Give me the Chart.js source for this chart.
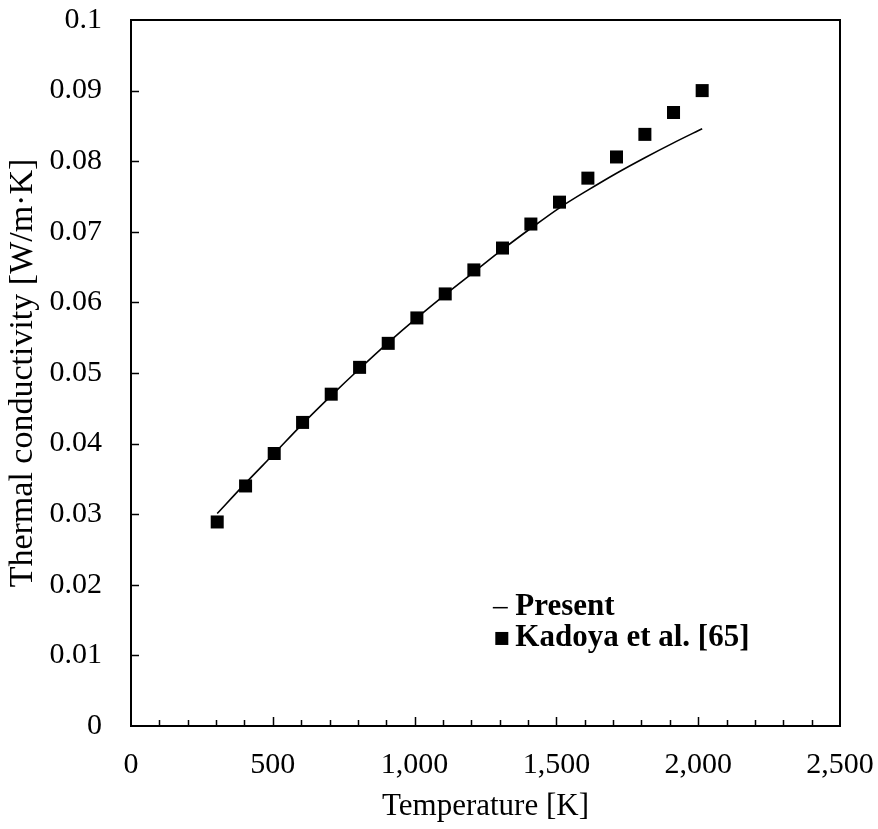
<!DOCTYPE html>
<html>
<head>
<meta charset="utf-8">
<script src="https://cdn.jsdelivr.net/npm/chart.js@4/dist/chart.umd.min.js"></script>
<style>
  html, body { margin: 0; padding: 0; background: #fff; }
  #wrap { width: 878px; height: 829px; }
</style>
</head>
<body>
<div id="wrap"><canvas id="c" width="878" height="829"></canvas></div>
<script>
// Temperatures [K] of the compared states
const temperatures = [304, 404, 505, 605, 706, 806, 907, 1008, 1108, 1209, 1310, 1410, 1511, 1611, 1712, 1812, 1913, 2014];
// Thermal conductivity [W/m·K] from the present model
const presentValues = [0.0301, 0.0344, 0.0386, 0.0428, 0.0468, 0.0506, 0.0543, 0.0578, 0.0611, 0.0643, 0.0675, 0.0705, 0.0734, 0.0759, 0.0783, 0.0805, 0.0826, 0.0846];
// Thermal conductivity [W/m·K] by Kadoya et al. [65]
const kadoyaValues = [0.0289, 0.0340, 0.0386, 0.0430, 0.0470, 0.0508, 0.0542, 0.0578, 0.0612, 0.0646, 0.0677, 0.0711, 0.0742, 0.0776, 0.0806, 0.0838, 0.0869, 0.0900];

const seriesNames = ['Present', 'Kadoya et al. [65]'];
const xTitle = 'Temperature [K]';
const yTitle = 'Thermal conductivity [W/m\u00B7K]';
const xRange = [0, 2500];
const yRange = [0, 0.1];

const FONT = '"Liberation Serif", "Times New Roman", serif';
Chart.defaults.font.family = FONT;
Chart.defaults.color = '#000';

const toPoints = (xs, ys) => xs.map((x, i) => ({ x: x, y: ys[i] }));

// Frame around the plot area plus inward-pointing ticks
const framePlugin = {
  id: 'frame',
  afterDatasetsDraw(chart) {
    const { ctx, chartArea: a, scales: { x, y } } = chart;
    ctx.save();
    ctx.strokeStyle = '#000';
    ctx.lineWidth = 2;
    ctx.strokeRect(a.left, a.top, a.right - a.left, a.bottom - a.top);
    ctx.lineWidth = 1.5;
    ctx.beginPath();
    for (let v = xRange[0] + 100; v < xRange[1]; v += 100) {
      const px = Math.round(x.getPixelForValue(v)) + 0.5;
      const len = v % 500 === 0 ? 9 : 6;
      ctx.moveTo(px, a.bottom);
      ctx.lineTo(px, a.bottom - len);
    }
    for (let i = 1; i < 10; i++) {
      const py = Math.round(y.getPixelForValue(i / 100)) + 0.5;
      ctx.moveTo(a.left, py);
      ctx.lineTo(a.left + 8, py);
    }
    ctx.stroke();
    ctx.restore();
  }
};

// Legend placed inside the plot area
const insideLegend = {
  id: 'insideLegend',
  afterDraw(chart) {
    const { ctx, chartArea: a } = chart;
    const w = a.right - a.left, h = a.bottom - a.top;
    const markX = a.left + w * 0.523;
    const textX = a.left + w * 0.542;
    const row1 = a.top + h * 0.831;
    const row2 = a.top + h * 0.876;
    ctx.save();
    ctx.fillStyle = '#000';
    ctx.strokeStyle = '#000';
    ctx.font = 'bold 31px ' + FONT;
    ctx.textBaseline = 'middle';
    ctx.textAlign = 'left';
    // line sample
    ctx.lineWidth = 1.5;
    ctx.beginPath();
    ctx.moveTo(markX - 9, row1 + 1);
    ctx.lineTo(markX + 6, row1 + 1);
    ctx.stroke();
    ctx.fillText(seriesNames[0], textX, row1);
    // marker sample
    ctx.fillRect(markX - 6.5, row2 - 6.5, 13, 13);
    ctx.fillText(seriesNames[1], textX, row2);
    ctx.restore();
  }
};

new Chart(document.getElementById('c'), {
  type: 'scatter',
  data: {
    datasets: [
      {
        label: seriesNames[0],
        data: toPoints(temperatures, presentValues),
        showLine: true,
        borderColor: '#000',
        borderWidth: 1.6,
        pointRadius: 0,
        tension: 0.3,
        order: 2
      },
      {
        label: seriesNames[1],
        data: toPoints(temperatures, kadoyaValues),
        showLine: false,
        pointStyle: 'rect',
        pointRadius: 9.2,
        pointBackgroundColor: '#000',
        pointBorderWidth: 0,
        order: 1
      }
    ]
  },
  options: {
    responsive: false,
    animation: false,
    devicePixelRatio: 1,
    layout: { padding: { top: 20, right: 38, left: 0, bottom: 0 } },
    plugins: { legend: { display: false }, tooltip: { enabled: false } },
    scales: {
      x: {
        type: 'linear',
        min: xRange[0],
        max: xRange[1],
        grid: { display: false, drawTicks: true, tickLength: 21 },
        border: { display: false },
        ticks: {
          stepSize: 500,
          padding: 0,
          font: { size: 30 },
          maxRotation: 0,
          callback: v => v.toLocaleString('en-US')
        },
        title: { display: true, text: xTitle, font: { size: 31 }, padding: { top: 0, bottom: 4 } },
        afterFit(s) { s.height = 103; }
      },
      y: {
        type: 'linear',
        min: yRange[0],
        max: yRange[1],
        grid: { display: false, drawTicks: true, tickLength: 29 },
        border: { display: false },
        ticks: {
          stepSize: 0.01,
          padding: 0,
          font: { size: 30 },
          callback: v => String(Number(v.toFixed(2)))
        },
        title: { display: true, text: yTitle, font: { size: 34 }, padding: { top: 3, bottom: 0 } },
        afterFit(s) { s.width = 131; }
      }
    }
  },
  plugins: [framePlugin, insideLegend]
});
</script>
</body>
</html>
